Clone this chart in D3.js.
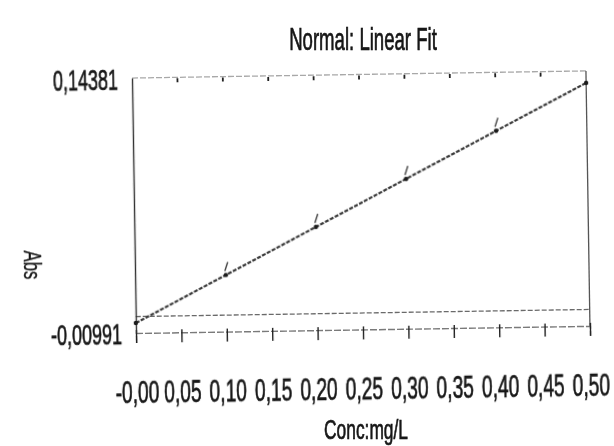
<!DOCTYPE html>
<meta charset="utf-8">
<script src="https://d3js.org/d3.v7.min.js"></script>
<style>
  body { margin: 0; background: #fff; }
  text { font-family: "Liberation Sans", Arial, sans-serif; fill: #151515; stroke: #151515; stroke-width: 0.7px; }
</style>
<div id="my_dataviz"></div>
<script>

// x ticks (mg/L) and their printed labels
var xTickValues = [0, 0.05, 0.10, 0.15, 0.20, 0.25, 0.30, 0.35, 0.40, 0.45, 0.50];
var xTickLabels = ["-0,00", "0,05", "0,10", "0,15", "0,20", "0,25", "0,30", "0,35", "0,40", "0,45", "0,50"];

// y axis only labels its ends
var yTickValues = [-0.00991, 0.14381];
var yTickLabels = ["-0,00991", "0,14381"];

// standards
var stdConc = [0, 0.1, 0.2, 0.3, 0.4, 0.5];
var stdAbs = [-0.0039, 0.0242, 0.0523, 0.0804, 0.1085, 0.1366];

// fitted line end points
var fitConc = [0, 0.5];
var fitAbs = [-0.0039, 0.1366];

var margin = {top: 78, right: 24, bottom: 113, left: 136},
    width = 614 - margin.left - margin.right,
    height = 446 - margin.top - margin.bottom;

// the printout font is very condensed
var squeeze = 0.6;

var root = d3.select("#my_dataviz")
  .append("svg")
    .attr("width", 614)
    .attr("height", 446);

// a little softness, like the scanned printout
root.append("defs").append("filter")
    .attr("id", "soft")
  .append("feGaussianBlur")
    .attr("stdDeviation", 0.6);

var page = root.append("g").attr("filter", "url(#soft)");

// the scan is slightly tilted
var svg = page.append("g")
    .attr("transform", "translate(" + margin.left + "," + (margin.top + height) + ") rotate(-0.9) translate(0," + (-height) + ")");

var x = d3.scaleLinear()
  .domain([0, 0.5])
  .range([0, width]);

var y = d3.scaleLinear()
  .domain([-0.00991, 0.14381])
  .range([height, 0]);

// frame: top and right edges
svg.append("line")
  .attr("x1", 0).attr("x2", width)
  .attr("y1", 0).attr("y2", 0)
  .attr("stroke", "#a8a8a8").attr("stroke-width", 1.3)
  .attr("stroke-dasharray", "6,2");
svg.append("line")
  .attr("x1", width).attr("x2", width)
  .attr("y1", 0).attr("y2", height)
  .attr("stroke", "#555").attr("stroke-width", 1.3);

// small dots on the top edge
svg.selectAll("topTick")
  .data(xTickValues.slice(1, 10))
  .enter()
  .append("line")
    .attr("x1", function(d) { return x(d); })
    .attr("x2", function(d) { return x(d); })
    .attr("y1", 1).attr("y2", 5)
    .attr("stroke", "#222").attr("stroke-width", 1.8);

// zero line
svg.append("line")
  .attr("x1", 0).attr("x2", width)
  .attr("y1", y(0)).attr("y2", y(0))
  .attr("stroke", "#6a6a6a").attr("stroke-width", 1.3)
  .attr("stroke-dasharray", "5,2");

// bottom axis
var xAxis = d3.axisBottom(x)
  .tickValues(xTickValues)
  .tickFormat(function(d, i) { return xTickLabels[i]; })
  .tickSize(10);

var gx = svg.append("g")
  .attr("transform", "translate(0," + height + ")")
  .call(xAxis);
gx.select(".domain").attr("stroke", "#7a7a7a").attr("stroke-width", 1.4).attr("stroke-dasharray", "7,2");
gx.selectAll(".tick line").attr("stroke", "#222").attr("stroke-width", 1.4).attr("y1", -3);
gx.selectAll(".tick text")
  .attr("y", 70)
  .attr("dy", 0)
  .attr("transform", "scale(" + squeeze + ",1)")
  .style("font-size", "32px")
  .style("fill", "#151515");

// left axis, labels only at the ends
var yAxis = d3.axisLeft(y)
  .tickValues(yTickValues)
  .tickFormat(function(d, i) { return yTickLabels[i]; })
  .tickSize(0);

var gy = svg.append("g").call(yAxis);
gy.select(".domain").attr("stroke", "#333").attr("stroke-width", 1.4);
gy.selectAll(".tick text")
  .attr("x", -14 / squeeze)
  .attr("dy", "0.36em")
  .attr("transform", "scale(" + squeeze + ",1)")
  .style("font-size", "30px")
  .style("fill", "#151515");

// fitted line
svg.append("path")
  .datum(fitConc.map(function(c, i) { return [c, fitAbs[i]]; }))
  .attr("fill", "none")
  .attr("stroke", "#3a3a3a")
  .attr("stroke-width", 2.2)
  .attr("stroke-dasharray", "4,1.5")
  .attr("d", d3.line()
    .x(function(d) { return x(d[0]); })
    .y(function(d) { return y(d[1]); }));

// standards: dot plus a short tick
svg.selectAll("stdDot")
  .data(stdConc)
  .enter()
  .append("circle")
    .attr("cx", function(d) { return x(d); })
    .attr("cy", function(d, i) { return y(stdAbs[i]); })
    .attr("r", 2.2)
    .attr("fill", "#1a1a1a");

svg.selectAll("stdMark")
  .data(stdConc.slice(1, 5))
  .enter()
  .append("line")
    .attr("x1", function(d) { return x(d) - 1; })
    .attr("x2", function(d) { return x(d) + 2; })
    .attr("y1", function(d, i) { return y(stdAbs[i + 1]) - 4; })
    .attr("y2", function(d, i) { return y(stdAbs[i + 1]) - 13; })
    .attr("stroke", "#444")
    .attr("stroke-width", 1.4);

// title
page.append("text")
  .attr("transform", "translate(363,50) scale(" + squeeze + ",1)")
  .attr("text-anchor", "middle")
  .style("font-size", "31px")
  .text("Normal: Linear Fit");

// x label
page.append("text")
  .attr("transform", "translate(366,439) scale(0.62,1)")
  .attr("text-anchor", "middle")
  .style("font-size", "28px")
  .text("Conc:mg/L");

// y label, rotated clockwise
page.append("text")
  .attr("transform", "translate(24,265) rotate(90) scale(0.7,1)")
  .attr("text-anchor", "middle")
  .style("font-size", "24px")
  .style("stroke-width", "0.3px")
  .text("Abs");

</script>
